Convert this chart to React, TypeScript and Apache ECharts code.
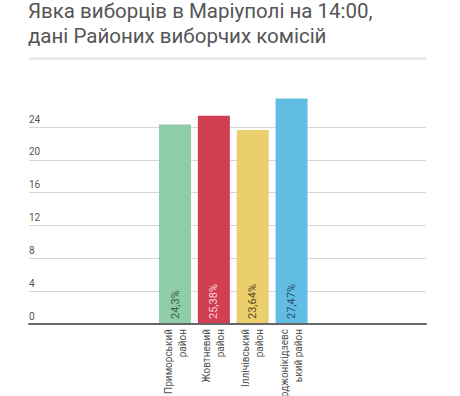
import React, { useEffect, useRef } from "react";
import * as echarts from "echarts";

const titleLines = ["Явка виборців в Маріуполі на 14:00,", "дані Районих виборчих комісій"];
const categories = [
  "Приморський\nрайон",
  "Жовтневий\nрайон",
  "Іллічівський\nрайон",
  "Орджонікідзевс\nький район",
];
const values = [24.3, 25.38, 23.64, 27.47];
const valueLabels = ["24,3%", "25,38%", "23,64%", "27,47%"];
const barColors = ["#8ecda7", "#d13f51", "#ebcf6c", "#62bde4"];
const labelColors = ["#3f5f4a", "#f6d6da", "#5a4a1e", "#2d4f6a"];
const yTicks = [0, 4, 8, 12, 16, 20, 24];

export default function App() {
  const ref = useRef<HTMLDivElement>(null);
  useEffect(() => {
    if (!ref.current) return;
    const chart = echarts.init(ref.current, null, { renderer: "svg" });
    const font = "Roboto";
    const titleStyle = {
      fontFamily: font,
      fontSize: 20.5,
      lineHeight: 21,
      fontWeight: "normal",
      color: "#555555",
    };
    chart.setOption({
      animation: false,
      textStyle: { fontFamily: font },
      title: titleLines.map((t, i) => ({
        text: t,
        left: 28,
        top: 0 + i * 25,
        padding: 0,
        textStyle: titleStyle,
      })),
      graphic: [
        {
          type: "rect",
          shape: { x: 29, y: 57, width: 397, height: 3 },
          style: { fill: "#e9e9e9" },
          silent: true,
        },
      ],
      grid: [
        { left: 29, right: 34, top: 127, bottom: 72, outerBoundsMode: "none", containLabel: false },
        { left: 155.6, right: 149, top: 94.2, bottom: 72, outerBoundsMode: "none", containLabel: false },
      ],
      xAxis: [
        {
          gridIndex: 0,
          type: "category",
          data: [""],
          axisLine: { show: true, lineStyle: { color: "#666666", width: 2 } },
          axisTick: { show: false },
          axisLabel: { show: false },
          z: 5,
        },
        {
          gridIndex: 1,
          type: "category",
          data: categories,
          axisLine: { show: false },
          axisTick: { show: false },
          axisLabel: {
            interval: 0,
            rotate: 90,
            fontSize: 10,
            lineHeight: 14,
            color: "#555555",
            margin: 5,
            fontFamily: font,
          },
        },
      ],
      yAxis: [
        {
          gridIndex: 0,
          type: "value",
          min: yTicks[0],
          max: yTicks[yTicks.length - 1],
          interval: 4,
          axisLine: { show: false },
          axisTick: { show: false },
          splitLine: { lineStyle: { color: "#d6d6d6", width: 1 } },
          axisLabel: {
            inside: true,
            margin: 0,
            align: "left",
            verticalAlign: "bottom",
            padding: [0, 0, 3, 0],
            fontSize: 10,
            color: "#555555",
            fontFamily: font,
          },
        },
        {
          gridIndex: 1,
          type: "value",
          min: 0,
          max: 28,
          show: false,
          splitLine: { show: false },
        },
      ],
      series: [
        {
          type: "bar",
          xAxisIndex: 1,
          yAxisIndex: 1,
          barWidth: 32,
          data: values.map((v, i) => ({
            value: v,
            itemStyle: { color: barColors[i] },
            label: { color: labelColors[i] },
          })),
          label: {
            show: true,
            position: "insideBottom",
            rotate: 90,
            align: "left",
            verticalAlign: "middle",
            distance: 5,
            fontSize: 11,
            fontFamily: font,
            formatter: (p: any) => valueLabels[p.dataIndex],
          },
        },
      ],
    });
    return () => chart.dispose();
  }, []);
  return (
    <div
      ref={ref}
      style={{ position: "fixed", left: 0, top: 0, width: 460, height: 396, background: "#fff" }}
    />
  );
}
